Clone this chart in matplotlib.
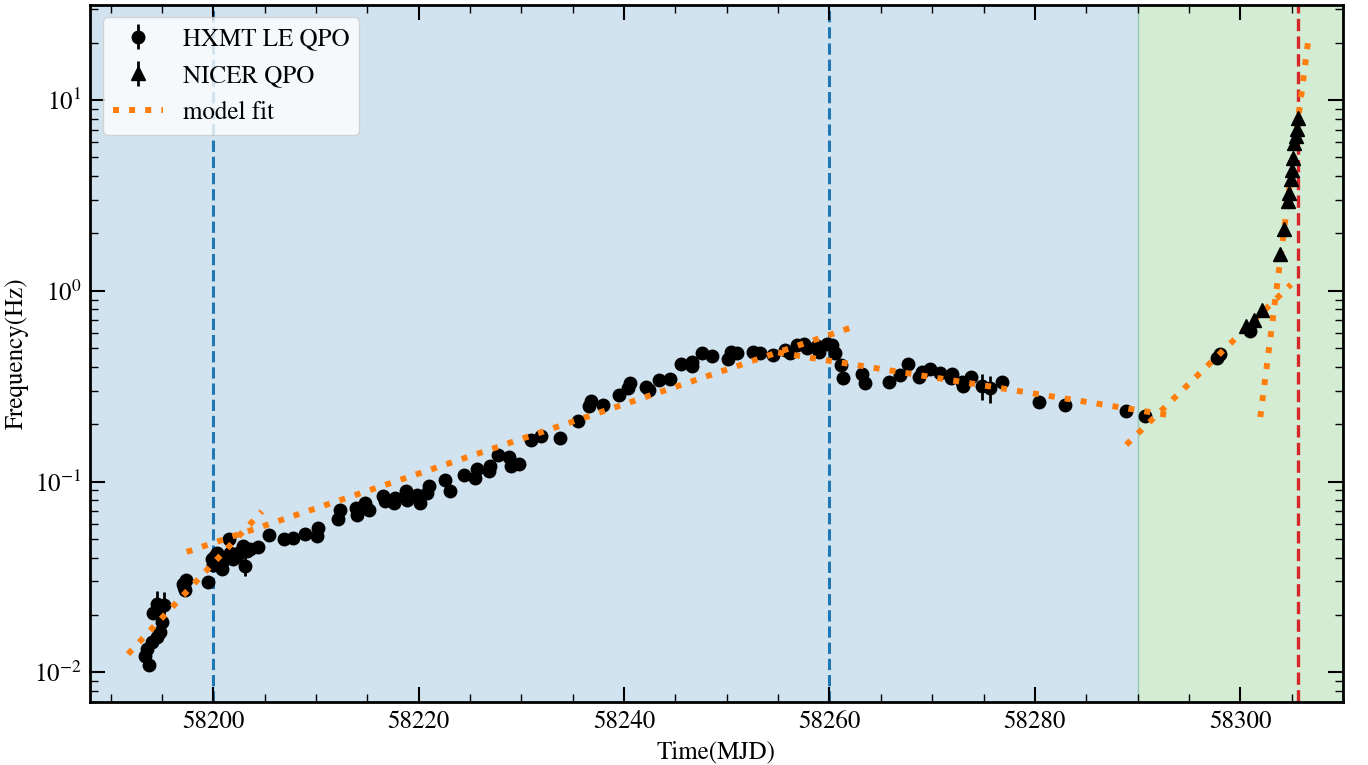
import numpy as np
import matplotlib
matplotlib.use("Agg")
import matplotlib.pyplot as plt

# HXMT LE QPO frequencies
hxmt_t = [58193.35, 58193.51, 58193.77, 58194.00, 58194.16, 58194.49, 58194.49, 58194.64, 58194.81, 58194.97,
          58195.20, 58197.02, 58197.18, 58197.24, 58197.34, 58199.51, 58199.84, 58200.00, 58200.17, 58200.33,
          58200.82, 58200.94, 58201.56, 58201.63, 58201.95, 58202.28, 58202.43, 58202.92, 58203.09, 58203.09,
          58203.28, 58203.57, 58204.38, 58205.45, 58206.89, 58207.73, 58208.93, 58210.07, 58210.23, 58212.12,
          58212.34, 58213.90, 58214.03, 58214.78, 58215.19, 58216.56, 58216.72, 58217.63, 58217.70, 58218.77,
          58218.84, 58219.81, 58220.13, 58220.79, 58221.04, 58222.57, 58223.06, 58224.45, 58225.49, 58225.66,
          58226.88, 58226.95, 58227.76, 58228.83, 58228.97, 58229.80, 58230.91, 58231.89, 58233.77, 58235.55,
          58236.62, 58236.76, 58237.99, 58239.52, 58240.42, 58240.59, 58242.14, 58242.47, 58243.44, 58244.48,
          58245.52, 58246.60, 58246.65, 58247.63, 58248.60, 58250.16, 58250.39, 58251.00, 58252.60, 58253.25,
          58254.54, 58255.68, 58256.17, 58256.82, 58257.53, 58257.80, 58258.77, 58259.02, 58259.74, 58260.23,
          58260.55, 58261.09, 58261.36, 58263.15, 58263.47, 58265.84, 58266.88, 58267.69, 58268.76, 58269.00,
          58269.81, 58270.78, 58271.82, 58271.92, 58272.89, 58273.05, 58273.80, 58274.84, 58275.65, 58276.79,
          58280.45, 58282.96, 58288.90, 58290.68, 58297.71, 58298.00, 58300.91]
hxmt_f = [0.01222, 0.01325, 0.01093, 0.01436, 0.02056, 0.01531, 0.02278, 0.02144, 0.01620, 0.01827,
          0.02250, 0.02897, 0.02818, 0.02705, 0.03051, 0.02979, 0.0391, 0.0364, 0.0407, 0.0424,
          0.0347, 0.0382, 0.0498, 0.0424, 0.0391, 0.0407, 0.0424, 0.0459, 0.0361, 0.0451,
          0.0432, 0.0442, 0.0456, 0.0523, 0.0498, 0.0508, 0.0533, 0.0518, 0.0573, 0.0639,
          0.0714, 0.0729, 0.0665, 0.0774, 0.0714, 0.0845, 0.0789, 0.0774, 0.0822, 0.0890,
          0.0799, 0.0856, 0.0768, 0.0874, 0.0946, 0.1025, 0.0890, 0.1089, 0.1046, 0.1166,
          0.1133, 0.1213, 0.1385, 0.1347, 0.1213, 0.1243, 0.1659, 0.1726, 0.1693, 0.2067,
          0.2496, 0.263, 0.2528, 0.2851, 0.309, 0.328, 0.315, 0.303, 0.341, 0.346,
          0.414, 0.404, 0.4256, 0.4744, 0.456, 0.438, 0.480, 0.471, 0.480, 0.475,
          0.461, 0.490, 0.474, 0.517, 0.526, 0.500, 0.511, 0.480, 0.526, 0.517,
          0.470, 0.409, 0.348, 0.367, 0.328, 0.3345, 0.3626, 0.414, 0.3553, 0.3774,
          0.3883, 0.370, 0.3486, 0.367, 0.3345, 0.3177, 0.3553, 0.3177, 0.309, 0.3345,
          0.260, 0.2528, 0.235, 0.2214, 0.443, 0.467, 0.618]
# only a few error bars stick out of the markers
err_idx = [6, 10, 28, 117, 118, 122]
err_val = [0.004, 0.004, 0.004, 0.05, 0.05, 0.012]

# NICER QPO frequencies
nicer_t = [58300.55, 58301.31, 58302.09, 58303.87, 58304.28, 58304.67, 58304.74,
           58304.92, 58305.01, 58305.11, 58305.23, 58305.41, 58305.52, 58305.59]
nicer_f = [0.658, 0.705, 0.793, 1.569, 2.106, 2.968, 3.240,
           3.844, 4.274, 4.997, 5.971, 6.512, 7.060, 8.088]
nicer_err = [0.01, 0.01, 0.01, 0.02, 0.02, 0.03, 0.03,
             0.03, 0.03, 0.04, 0.04, 0.05, 0.05, 0.05]

# model fit segments (start/end)
fit_t0 = [58191.7, 58197.41, 58255.0, 58288.90, 58301.95]
fit_t1 = [58204.74, 58262.70, 58292.86, 58304.94, 58306.59]
fit_f0 = [0.01248, 0.0428, 0.475, 0.156, 0.218]
fit_f1 = [0.0698, 0.658, 0.224, 1.08, 20.0]

plt.rcParams['font.family'] = 'STIXGeneral'
plt.rcParams['mathtext.fontset'] = 'stix'
plt.rcParams['font.size'] = 18
plt.rcParams['axes.linewidth'] = 2
plt.rcParams['xtick.direction'] = 'in'
plt.rcParams['ytick.direction'] = 'in'
plt.rcParams['xtick.top'] = True
plt.rcParams['ytick.right'] = True
plt.rcParams['xtick.major.size'] = 11
plt.rcParams['ytick.major.size'] = 11
plt.rcParams['xtick.minor.size'] = 6
plt.rcParams['ytick.minor.size'] = 6
plt.rcParams['xtick.major.width'] = 1.5
plt.rcParams['ytick.major.width'] = 1.5
plt.rcParams['xtick.minor.width'] = 1
plt.rcParams['ytick.minor.width'] = 1
plt.rcParams['xtick.major.pad'] = 6
plt.rcParams['ytick.major.pad'] = 6

fig = plt.figure(figsize=(13.68, 7.65), dpi=100)
ax = fig.add_axes([0.0658, 0.0824, 0.9159, 0.9111])

ax.axvspan(58180, 58290, color='C0', alpha=0.2, zorder=0)
ax.axvspan(58290, 58320, color='C2', alpha=0.2, zorder=0)
ax.axvline(58200, color='C0', ls='--', lw=2.2, zorder=1)
ax.axvline(58260, color='C0', ls='--', lw=2.2, zorder=1)
ax.axvline(58305.62, color='C3', ls='--', lw=2.4, zorder=1)

hx_err = np.zeros(len(hxmt_t))
hx_err[err_idx] = err_val
ax.errorbar(hxmt_t, hxmt_f, yerr=hx_err, fmt='o', color='k', ms=9, elinewidth=2,
            label='HXMT LE QPO', zorder=3)

for i in range(len(fit_t0)):
    ax.plot([fit_t0[i], fit_t1[i]], [fit_f0[i], fit_f1[i]], color='C1', lw=4.3,
            ls=(0, (1, 1.7)), label='model fit' if i == 0 else None, zorder=4)

ax.errorbar(nicer_t, nicer_f, yerr=nicer_err, fmt='^', color='k', ms=9.5, elinewidth=2,
            label='NICER QPO', zorder=5)

ax.set_yscale('log')
ax.set_xlim(58188, 58310)
ax.set_ylim(0.007, 31.5)
ax.xaxis.set_major_locator(matplotlib.ticker.MultipleLocator(20))
ax.xaxis.set_minor_locator(matplotlib.ticker.MultipleLocator(5))
ax.xaxis.set_major_formatter(matplotlib.ticker.FormatStrFormatter('%d'))

ax.set_xlabel('Time(MJD)')
ax.set_ylabel('Frequency(Hz)')

h, l = ax.get_legend_handles_labels()
order = [l.index('HXMT LE QPO'), l.index('NICER QPO'), l.index('model fit')]
ax.legend([h[k] for k in order], [l[k] for k in order], loc='upper left')

fig.savefig('out.png', dpi=100)
